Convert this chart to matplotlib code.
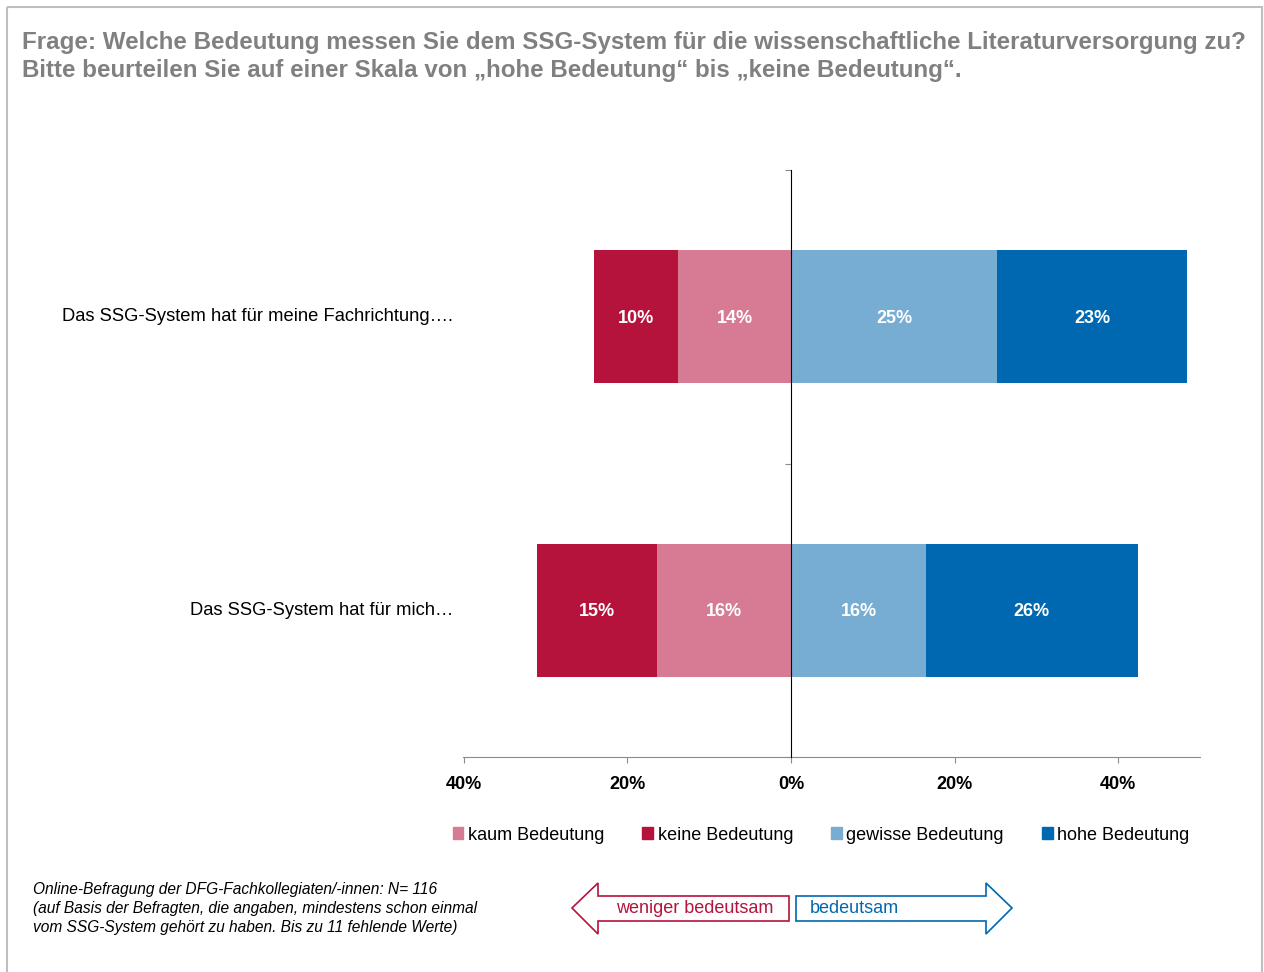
import matplotlib
matplotlib.use("Agg")
import matplotlib.pyplot as plt
import matplotlib.transforms as mtransforms
from matplotlib.patches import Patch, Polygon, Rectangle

plt.rcParams['font.family'] = ['Liberation Sans', 'DejaVu Sans']
narrow = ['Liberation Sans Narrow', 'Liberation Sans', 'DejaVu Sans']

# data (percent)
statements = ["Das SSG-System hat für mich…", "Das SSG-System hat für meine Fachrichtung…."]
keine = [14.7, 10.3]
kaum = [16.4, 13.8]
gewisse = [16.5, 25.2]
hohe = [25.9, 23.2]
ticks = [-40, -20, 0, 20, 40]

c_keine = '#B5133B'
c_kaum = '#D67B93'
c_gewisse = '#77ACD3'
c_hohe = '#0068B0'

W, H = 1264, 972
fig = plt.figure(figsize=(W / 100, H / 100), dpi=100)

ax = fig.add_axes([463 / W, 1 - 757 / H, (1200 - 463) / W, (757 - 170) / H])
y = [0.5, 1.5]
bh = 0.453

neg_kaum = [-v for v in kaum]
neg_keine = [-v for v in keine]
ax.barh(y, neg_kaum, height=bh, color=c_kaum, zorder=2)
ax.barh(y, neg_keine, left=neg_kaum, height=bh, color=c_keine, zorder=2)
ax.barh(y, gewisse, height=bh, color=c_gewisse, zorder=2)
ax.barh(y, hohe, left=gewisse, height=bh, color=c_hohe, zorder=2)

for i in range(len(y)):
    segs = [(-kaum[i] - keine[i] / 2, keine[i]),
            (-kaum[i] / 2, kaum[i]),
            (gewisse[i] / 2, gewisse[i]),
            (gewisse[i] + hohe[i] / 2, hohe[i])]
    for xc, v in segs:
        ax.text(xc, y[i] - 0.005, f"{v:.0f}%", ha='center', va='center', color='white',
                fontsize=13, fontweight='bold', family=narrow, zorder=3)

ax.set_xlim(-40.1, 50)
ax.set_ylim(0, 2)
ax.set_xticks(ticks)
ax.set_xticklabels([f"{abs(t)}%" for t in ticks], fontsize=13, fontweight='bold', family=narrow)
ax.tick_params(axis='x', direction='out', length=4, color='#8C8C8C', pad=10)
ax.set_yticks([0, 1, 2])
ax.set_yticklabels([])
ax.tick_params(axis='y', direction='out', length=4, color='#8C8C8C')

for s in ['top', 'right']:
    ax.spines[s].set_visible(False)
ax.spines['left'].set_position(('data', 0))
ax.spines['left'].set_color('black')
ax.spines['left'].set_zorder(4)
ax.spines['bottom'].set_color('#8C8C8C')

trans = mtransforms.blended_transform_factory(ax.transAxes, ax.transData)
for yi, lab in zip(y, statements):
    ax.text(-0.0136, yi, lab, transform=trans, ha='right', va='center', fontsize=13.2)

# legend
handles = [Patch(color=c_kaum, label='kaum Bedeutung'),
           Patch(color=c_keine, label='keine Bedeutung'),
           Patch(color=c_gewisse, label='gewisse Bedeutung'),
           Patch(color=c_hohe, label='hohe Bedeutung')]
fig.legend(handles=handles, loc='center', bbox_to_anchor=(821 / W, 1 - 835 / H), ncol=4,
           frameon=False, fontsize=13, handlelength=0.6, handleheight=0.6,
           handletextpad=0.25, columnspacing=2.1)

# title
title_color = '#808080'
fig.text(22 / W, 1 - 42 / H, "Frage: Welche Bedeutung messen Sie dem SSG-System für die wissenschaftliche Literaturversorgung zu?",
         fontsize=17.4, fontweight='bold', color=title_color, va='center', ha='left')
fig.text(22 / W, 1 - 71 / H, "Bitte beurteilen Sie auf einer Skala von „hohe Bedeutung“ bis „keine Bedeutung“.",
         fontsize=17.4, fontweight='bold', color=title_color, va='center', ha='left')

# footnote
foot = ["Online-Befragung der DFG-Fachkollegiaten/-innen: N= 116",
        "(auf Basis der Befragten, die angaben, mindestens schon einmal",
        "vom SSG-System gehört zu haben. Bis zu 11 fehlende Werte)"]
for k, line in enumerate(foot):
    fig.text(33 / W, 1 - (889 + 19 * k) / H, line, fontsize=11.2, style='italic',
             family=narrow, va='center', ha='left')

# overlay for frame and arrows (pixel coordinates)
ov = fig.add_axes([0, 0, 1, 1], zorder=-1)
ov.set_xlim(0, W)
ov.set_ylim(H, 0)
ov.axis('off')
ov.add_patch(Rectangle((7, 7), 1255, 1000, fill=False, edgecolor='#BFBFBF', lw=1.5))
left_arrow = [(572, 908), (598, 883), (598, 896), (789, 896), (789, 921), (598, 921), (598, 934)]
right_arrow = [(796, 896), (986, 896), (986, 883), (1012, 908), (986, 934), (986, 921), (796, 921)]
ov.add_patch(Polygon(left_arrow, closed=True, fill=False, edgecolor=c_keine, lw=1.2))
ov.add_patch(Polygon(right_arrow, closed=True, fill=False, edgecolor=c_hohe, lw=1.2))
ov.text(695, 908, "weniger bedeutsam", color=c_keine, fontsize=13, ha='center', va='center')
ov.text(810, 908, "bedeutsam", color=c_hohe, fontsize=13, ha='left', va='center')

fig.savefig("out.png", dpi=100)
